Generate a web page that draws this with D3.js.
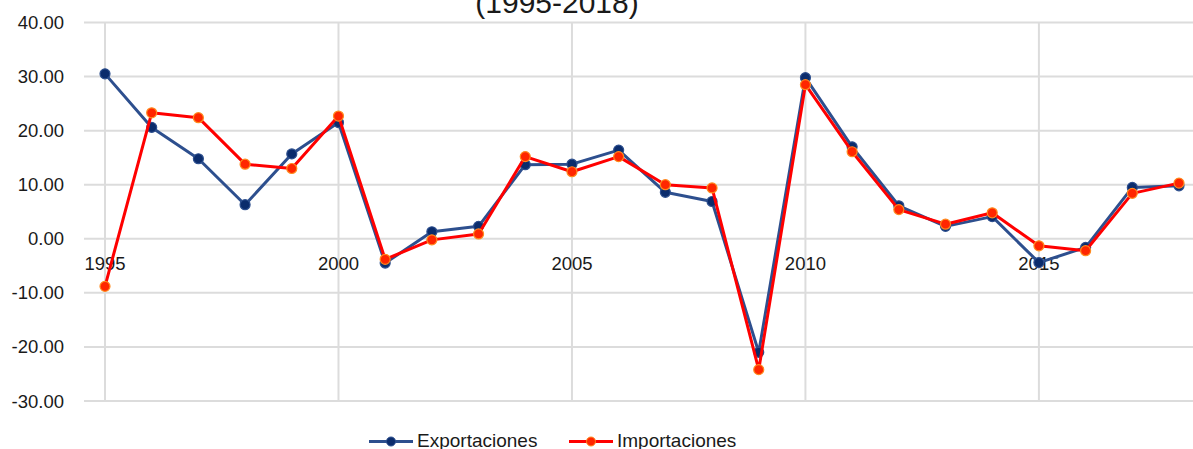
<!DOCTYPE html>
<html>
    <head>
        <meta charset="utf-8">
        <title>Exportaciones e Importaciones</title>
        <script src="https://d3js.org/d3.v7.min.js"></script>
        <style>
            body { margin: 0; background: #fff; }
            .grid line { stroke: #dcdcdc; stroke-width: 2; }
            .axis text { font-family: "Liberation Sans", Arial, sans-serif; font-size: 18.5px; fill: #1a1a1a; }
            .legend text { font-family: "Liberation Sans", Arial, sans-serif; font-size: 19px; fill: #1a1a1a; }
        </style>
    </head>
    <body>
        <svg width="1193" height="449"></svg>
        <script>
            var years = d3.range(1995, 2019);
            var exportaciones = [30.5, 20.6, 14.8, 6.3, 15.7, 21.5, -4.5, 1.3, 2.3, 13.7, 13.8, 16.4, 8.6, 6.9, -21.0, 29.8, 17.0, 6.1, 2.3, 4.1, -4.4, -1.6, 9.5, 9.8];
            var importaciones = [-8.8, 23.3, 22.4, 13.8, 13.0, 22.7, -3.8, -0.2, 0.9, 15.2, 12.4, 15.2, 10.0, 9.4, -24.2, 28.5, 16.1, 5.4, 2.7, 4.8, -1.3, -2.2, 8.4, 10.3];
            var yTicks = [-30, -20, -10, 0, 10, 20, 30, 40];
            var xTicks = [1995, 2000, 2005, 2010, 2015];

            var svg = d3.select("svg");

            var x = d3.scaleLinear().domain([1995, 2018]).range([105, 1179]);
            var y = d3.scaleLinear().domain([-30, 40]).range([401, 22.5]);

            // grid
            var grid = svg.append("g").attr("class", "grid");
            grid.selectAll(".h").data(yTicks).enter().append("line")
                .attr("x1", 84).attr("x2", 1193)
                .attr("y1", d => y(d)).attr("y2", d => y(d));
            grid.selectAll(".v").data(xTicks).enter().append("line")
                .attr("x1", d => x(d)).attr("x2", d => x(d))
                .attr("y1", y(40)).attr("y2", y(-30));

            // y axis labels (plain hyphen like the original)
            svg.append("g").attr("class", "axis")
                .selectAll("text").data(yTicks).enter().append("text")
                .attr("x", 64).attr("y", d => y(d) + 6.5)
                .attr("text-anchor", "end")
                .text(d => d.toFixed(2));

            // x axis labels
            svg.append("g").attr("class", "axis")
                .selectAll("text").data(xTicks).enter().append("text")
                .attr("x", d => x(d)).attr("y", y(0) + 31)
                .attr("text-anchor", "middle")
                .text(d => d);

            // title (second line, top is cut off in the original)
            svg.append("text")
                .attr("x", 557).attr("y", 13)
                .attr("text-anchor", "middle")
                .style("font-family", "Liberation Sans, Arial, sans-serif")
                .style("font-size", "30px")
                .style("fill", "#1a1a1a")
                .text("(1995-2018)");

            var series = [
                {name: "Exportaciones", values: exportaciones, line: "#2d4f8e", dot: "#0b2c6c", dotStroke: "#2d4f8e"},
                {name: "Importaciones", values: importaciones, line: "#ff0000", dot: "#ff2600", dotStroke: "#ff8a1e"}
            ];

            var line = d3.line().x((d, i) => x(years[i])).y(d => y(d));

            series.forEach(function(s) {
                svg.append("path")
                    .datum(s.values)
                    .attr("fill", "none")
                    .attr("stroke", s.line)
                    .attr("stroke-width", 3)
                    .attr("stroke-linejoin", "round")
                    .attr("d", line);
                svg.append("g").selectAll("circle")
                    .data(s.values).enter().append("circle")
                    .attr("cx", (d, i) => x(years[i]))
                    .attr("cy", d => y(d))
                    .attr("r", 5)
                    .attr("fill", s.dot)
                    .attr("stroke", s.dotStroke)
                    .attr("stroke-width", 1.2);
            });

            // legend
            var legend = svg.append("g").attr("class", "legend");
            var legendX = [369, 569];
            series.forEach(function(s, i) {
                var lx = legendX[i];
                legend.append("line")
                    .attr("x1", lx).attr("x2", lx + 44)
                    .attr("y1", 441.5).attr("y2", 441.5)
                    .attr("stroke", s.line).attr("stroke-width", 3);
                legend.append("circle")
                    .attr("cx", lx + 22).attr("cy", 441.5).attr("r", 4.5)
                    .attr("fill", s.dot).attr("stroke", s.dotStroke).attr("stroke-width", 1);
                legend.append("text")
                    .attr("x", lx + 48).attr("y", 447)
                    .text(s.name);
            });
        </script>
    </body>
</html>
